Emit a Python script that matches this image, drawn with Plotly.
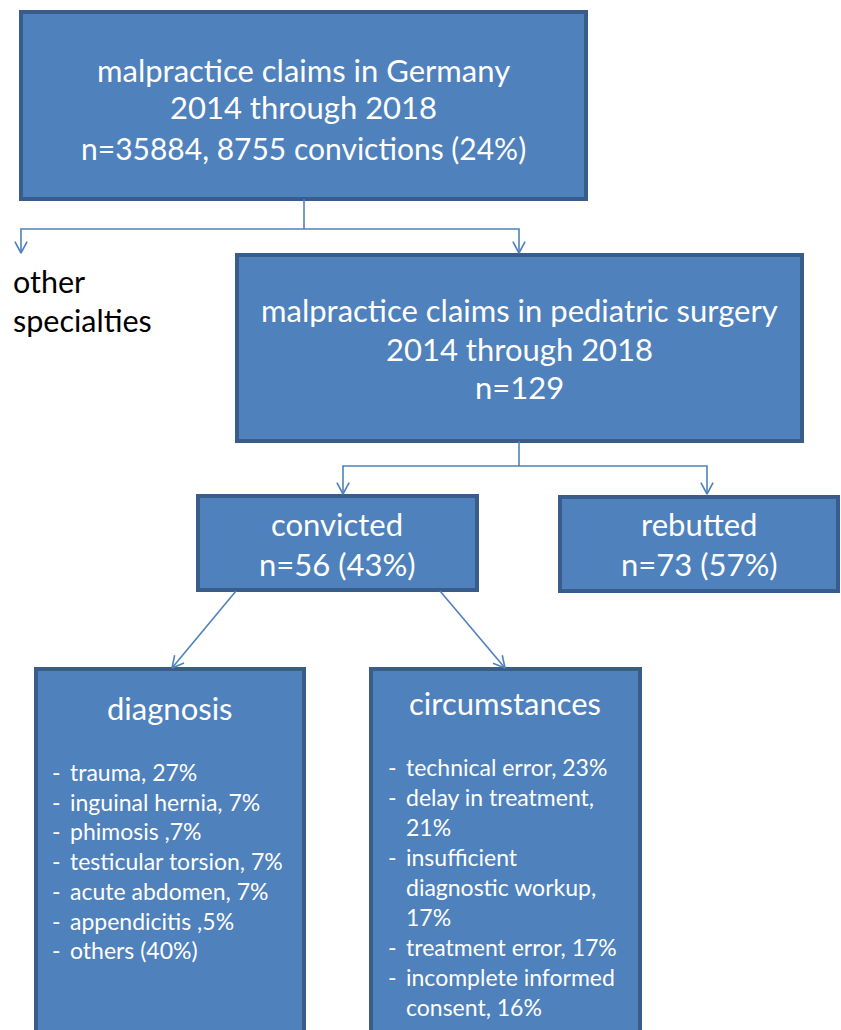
import math
import plotly.graph_objects as go

# ---- text content ----
top_lines = ["malpractice claims in Germany", "2014 through 2018", "n=35884, 8755 convictions (24%)"]
peds_lines = ["malpractice claims in pediatric surgery", "2014 through 2018", "n=129"]
other_lines = ["other", "specialties"]
convicted_lines = ["convicted", "n=56 (43%)"]
rebutted_lines = ["rebutted", "n=73 (57%)"]
diag_title = "diagnosis"
diag_items = ["trauma, 27%", "inguinal hernia, 7%", "phimosis ,7%", "testicular torsion, 7%",
              "acute abdomen, 7%", "appendicitis ,5%", "others (40%)"]
circ_title = "circumstances"
circ_items = [["technical error, 23%"], ["delay in treatment,", "21%"],
              ["insufficient", "diagnostic workup,", "17%"], ["treatment error, 17%"],
              ["incomplete informed", "consent, 16%"]]

W, H = 841, 1030
FILL = "#4f81bd"
EDGE = "#385d8a"
LINE = "#4f81bd"
FONT = "Lato"
BIG = 31
SMALL = 23

fig = go.Figure()
shapes = []
annots = []

def box(x0, y0, x1, y1):
    shapes.append(dict(type="rect", x0=x0, y0=y0, x1=x1, y1=y1, xref="x", yref="y",
                       fillcolor=FILL, line=dict(color=EDGE, width=4), layer="below"))

def text(x, y, s, size, anchor="center", color="white"):
    annots.append(dict(x=x, y=y, text=s, showarrow=False, xref="x", yref="y",
                       xanchor=anchor, yanchor="middle",
                       font=dict(family=FONT, size=size, color=color)))

def seg(pts, arrow=True):
    xs = [p[0] for p in pts]
    ys = [p[1] for p in pts]
    fig.add_trace(go.Scatter(x=xs, y=ys, mode="lines", line=dict(color=LINE, width=1.6),
                             hoverinfo="skip", showlegend=False))
    if arrow:
        (xa, ya), (xb, yb) = pts[-2], pts[-1]
        ang = math.atan2(yb - ya, xb - xa)
        L, spread = 13, math.radians(28)
        p1 = (xb - L * math.cos(ang - spread), yb - L * math.sin(ang - spread))
        p2 = (xb - L * math.cos(ang + spread), yb - L * math.sin(ang + spread))
        fig.add_trace(go.Scatter(x=[p1[0], xb, p2[0]], y=[p1[1], yb, p2[1]], mode="lines",
                                 line=dict(color=LINE, width=1.6), hoverinfo="skip", showlegend=False))

# boxes
box(21, 12, 586, 199)
box(237, 255, 802, 441)
box(198, 496, 477, 590)
box(560, 497, 838, 591)
box(36, 669, 304, 1040)
box(371, 669, 640, 1040)

# connectors
seg([(304, 199), (304, 229)], arrow=False)
seg([(304, 229), (21, 229), (21, 253)])
seg([(304, 229), (519, 229), (519, 253)])
seg([(519, 441), (519, 466)], arrow=False)
seg([(519, 466), (343, 466), (343, 494)])
seg([(519, 466), (707, 466), (707, 494)])
seg([(236, 591), (172, 668)])
seg([(440, 591), (505, 668)])

# texts
for s, y, sz in zip(top_lines, [70, 107, 148], [BIG, BIG, 30]):
    text(303, y, s, sz)
for s, y in zip(peds_lines, [310, 349, 387]):
    text(519, y, s, BIG)
for s, y in zip(other_lines, [281, 320]):
    text(11, y, s, 30.5, anchor="left", color="black")
for s, y in zip(convicted_lines, [524, 564]):
    text(337, y, s, BIG)
for s, y in zip(rebutted_lines, [524, 564]):
    text(699, y, s, BIG)

text(170, 708, diag_title, BIG)
text(505, 703, circ_title, BIG)

y0, dy = 772, 29.7
for i, s in enumerate(diag_items):
    y = y0 + i * dy
    text(50, y, "-", SMALL, anchor="left")
    text(68, y, s, SMALL, anchor="left")

y = 767
for item in circ_items:
    text(386, y, "-", SMALL, anchor="left")
    for s in item:
        text(404, y, s, SMALL, anchor="left")
        y += 30

fig.update_layout(
    width=W, height=H, margin=dict(l=0, r=0, t=0, b=0),
    paper_bgcolor="white", plot_bgcolor="white",
    xaxis=dict(range=[0, W], visible=False, fixedrange=True),
    yaxis=dict(range=[H, 0], visible=False, fixedrange=True),
    shapes=shapes, annotations=annots, showlegend=False,
)
fig.write_html("out.html", config={"displayModeBar": False},
               post_script="document.body.style.margin='0';document.body.style.overflow='hidden';")
